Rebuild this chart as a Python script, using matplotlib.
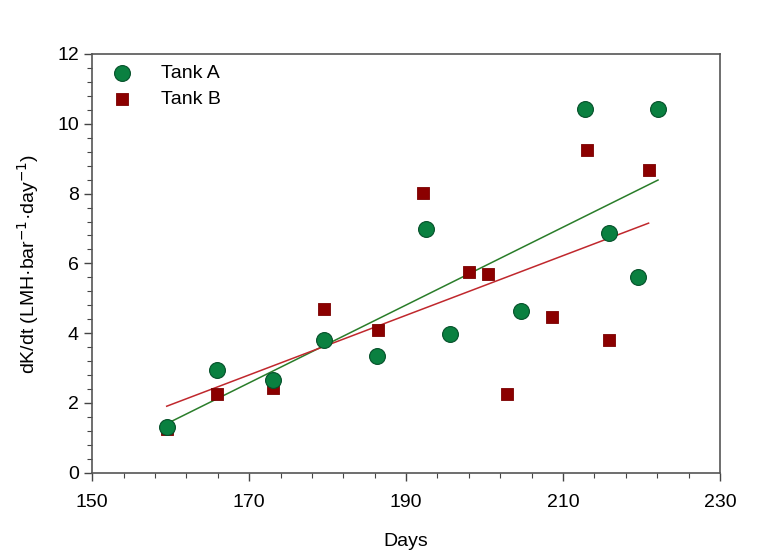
import numpy as np
import matplotlib.pyplot as plt
from matplotlib.ticker import MultipleLocator

plt.rcParams['font.family'] = ['Liberation Sans', 'DejaVu Sans']

# Tank A (circles)
days_a = [159.5, 165.9, 173.1, 179.5, 186.3, 192.5, 195.6, 204.6, 212.8, 215.8, 219.5, 222.1]
rate_a = [1.30, 2.95, 2.65, 3.81, 3.35, 6.99, 3.98, 4.63, 10.42, 6.86, 5.60, 10.41]

# Tank B (squares)
days_b = [159.5, 165.9, 173.1, 179.5, 186.4, 192.2, 198.0, 200.4, 202.9, 208.6, 213.0, 215.9, 220.9]
rate_b = [1.26, 2.26, 2.42, 4.69, 4.10, 8.03, 5.74, 5.69, 2.25, 4.46, 9.26, 3.79, 8.67]

fig = plt.figure(figsize=(7.68, 5.51), dpi=100)
ax = fig.add_axes([0.120, 0.142, 0.8175, 0.760])

# linear fits
fit_a = np.polyfit(days_a, rate_a, 1)
fit_b = np.polyfit(days_b, rate_b, 1)
xa = np.array([min(days_a), max(days_a)])
xb = np.array([min(days_b), max(days_b)])
ax.plot(xa, np.polyval(fit_a, xa), color="#2a7d2a", lw=1.1, zorder=2)
ax.plot(xb, np.polyval(fit_b, xb), color="#c0282d", lw=1.1, zorder=2)

ax.scatter(days_b, rate_b, marker="s", s=75, color="#8b0000", edgecolor="#7a0000",
           linewidth=0.6, label="Tank B", zorder=3)
ax.scatter(days_a, rate_a, marker="o", s=130, color="#0a8040", edgecolor="#05502a",
           linewidth=0.8, label="Tank A", zorder=4)

ax.set_xlim(150, 230)
ax.set_ylim(0, 12)
ax.set_xticks(np.arange(150, 231, 20))
ax.set_xticks(np.arange(150, 231, 4), minor=True)
ax.yaxis.set_major_locator(MultipleLocator(2))
ax.yaxis.set_minor_locator(MultipleLocator(0.4))
ax.tick_params(which="major", direction="out", length=6, width=1, labelsize=14, color="#444444")
ax.tick_params(which="minor", direction="out", length=3.5, width=0.8, color="#444444")
ax.tick_params(axis="x", pad=9)
for sp in ax.spines.values():
    sp.set_color("#555555")
    sp.set_linewidth(1.2)

ax.set_xlabel("Days", fontsize=14, labelpad=16)
ax.set_ylabel("dK/dt (LMH·bar$^{-1}$·day$^{-1}$)", fontsize=14, labelpad=12)

handles, labels = ax.get_legend_handles_labels()
ax.legend(handles[::-1], labels[::-1], loc="upper left", frameon=False, fontsize=14,
          handletextpad=1.0, labelspacing=0.4, borderaxespad=0.15, scatterpoints=1)

fig.savefig("out.png", dpi=100)
